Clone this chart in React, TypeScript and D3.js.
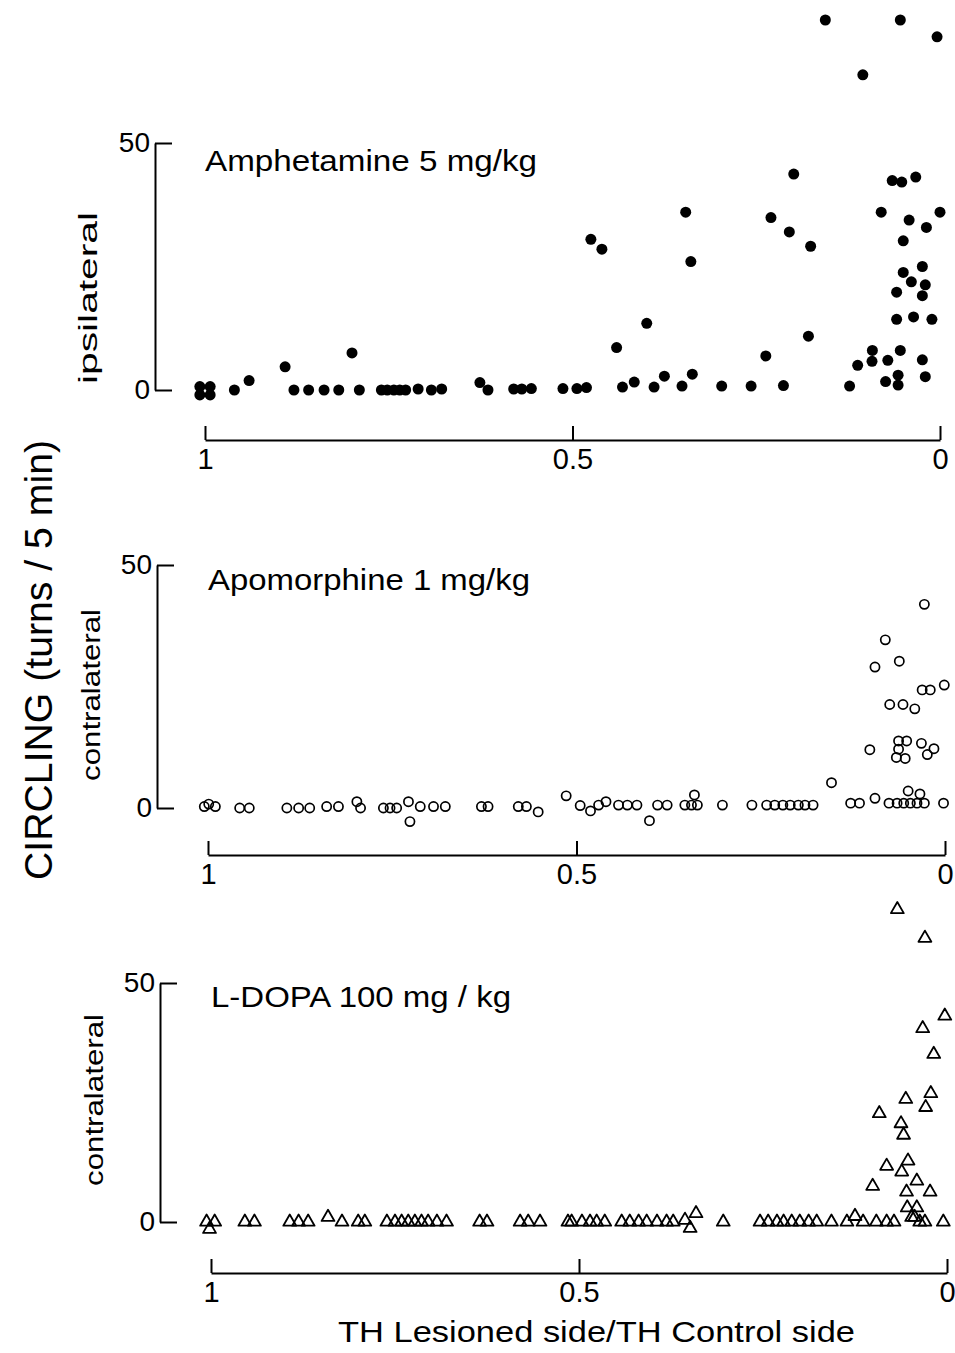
import React, { useEffect, useRef } from "react";
import * as d3 from "d3";

// [TH lesioned / TH control, turns per 5 min]
const amphetamine: [number, number][] = [
  [1.007, 0.7], [0.993, 0.7], [1.007, -1], [0.993, -1],
  [0.96, 0], [0.94, 1.9], [0.891, 4.7], [0.879, 0], [0.859, 0], [0.838, 0], [0.818, 0],
  [0.8, 7.5], [0.79, 0], [0.76, 0], [0.752, 0], [0.743, 0], [0.735, 0], [0.727, 0],
  [0.71, 0.2], [0.692, 0], [0.678, 0.2], [0.626, 1.5], [0.615, 0], [0.58, 0.2],
  [0.569, 0.2], [0.556, 0.3], [0.513, 0.3], [0.494, 0.3], [0.481, 0.5],
  [0.475, 30.5], [0.46, 28.5], [0.44, 8.6], [0.432, 0.6], [0.416, 1.6], [0.399, 13.5],
  [0.389, 0.6], [0.375, 2.8], [0.351, 0.8], [0.346, 36.0], [0.339, 26.0], [0.337, 3.2],
  [0.297, 0.8], [0.257, 0.8], [0.237, 6.9], [0.23, 34.9], [0.213, 0.9], [0.205, 32.0],
  [0.199, 43.7], [0.179, 10.9], [0.176, 29.1], [0.156, 74.9], [0.123, 0.8], [0.112, 5.0],
  [0.105, 63.8], [0.092, 8.0], [0.0925, 5.8], [0.08, 36.0], [0.074, 1.7], [0.071, 6.0],
  [0.065, 42.4], [0.059, 19.8], [0.059, 14.3], [0.057, 3.0], [0.057, 1.0], [0.054, 8.0],
  [0.054, 74.9], [0.052, 42.1], [0.05, 23.8], [0.05, 30.2], [0.042, 34.4], [0.039, 21.9],
  [0.036, 14.8], [0.033, 43.1], [0.024, 25.0], [0.024, 19.1], [0.02, 21.3], [0.024, 6.1],
  [0.02, 2.7], [0.0185, 32.9], [0.011, 14.3], [0.004, 71.5], [0.0, 36.0],
];

const apomorphine: [number, number][] = [
  [1.005, 0.3], [0.999, 0.8], [0.99, 0.3], [0.957, 0], [0.944, 0],
  [0.893, 0], [0.877, 0], [0.862, 0], [0.839, 0.3], [0.823, 0.3], [0.798, 1.3], [0.793, 0],
  [0.762, 0], [0.753, 0], [0.744, 0], [0.728, 1.3], [0.726, -2.8], [0.712, 0.3],
  [0.694, 0.3], [0.678, 0.3], [0.629, 0.3], [0.62, 0.3], [0.579, 0.3], [0.568, 0.3],
  [0.552, -0.8], [0.514, 2.5], [0.495, 0.5], [0.481, -0.6], [0.47, 0.6], [0.46, 1.3],
  [0.443, 0.6], [0.431, 0.6], [0.418, 0.6], [0.401, -2.6], [0.39, 0.6], [0.377, 0.6],
  [0.353, 0.6], [0.344, 0.6], [0.34, 2.7], [0.336, 0.6], [0.302, 0.6], [0.262, 0.6],
  [0.242, 0.6], [0.231, 0.6], [0.22, 0.6], [0.21, 0.6], [0.199, 0.6], [0.19, 0.6],
  [0.179, 0.6], [0.154, 5.2], [0.128, 1.0], [0.116, 1.0], [0.102, 12.0], [0.095, 29.0],
  [0.095, 2.0], [0.081, 34.6], [0.076, 1.0], [0.075, 21.3], [0.066, 10.4], [0.065, 1.0],
  [0.063, 13.8], [0.063, 12.1], [0.062, 30.2], [0.057, 21.3], [0.056, 1.0], [0.054, 10.2],
  [0.052, 13.8], [0.05, 3.5], [0.047, 1.0], [0.041, 20.4], [0.038, 1.0], [0.034, 2.9],
  [0.032, 13.3], [0.031, 24.3], [0.028, 41.9], [0.028, 1.0], [0.024, 11.0], [0.02, 24.3],
  [0.015, 12.2], [0.001, 25.3], [0.002, 1.0],
];

const ldopa: [number, number][] = [
  [1.006, 0], [0.995, 0], [1.002, -1.5], [0.954, 0], [0.941, 0], [0.893, 0], [0.881, 0],
  [0.868, 0], [0.841, 1.0], [0.822, 0], [0.8, 0], [0.791, 0], [0.761, 0], [0.75, 0],
  [0.741, 0], [0.732, 0], [0.723, 0], [0.714, 0], [0.705, 0], [0.693, 0], [0.68, 0],
  [0.635, 0], [0.625, 0], [0.58, 0], [0.569, 0], [0.553, 0], [0.515, 0], [0.51, 0],
  [0.496, 0], [0.485, 0], [0.476, 0], [0.465, 0], [0.442, 0], [0.431, 0], [0.419, 0],
  [0.408, 0], [0.394, 0], [0.381, 0], [0.372, 0], [0.356, 0.4], [0.341, 1.8], [0.349, -1.3],
  [0.304, 0], [0.254, 0], [0.243, 0], [0.231, 0], [0.222, 0], [0.211, 0], [0.2, 0],
  [0.188, 0], [0.177, 0], [0.157, 0], [0.136, 0], [0.125, 1.2], [0.114, 0], [0.096, 0],
  [0.082, 0], [0.072, 0], [0.054, 3], [0.048, 1], [0.044, 1], [0.041, 3], [0.037, 0],
  [0.03, 0], [0.005, 0], [0.101, 7.5], [0.092, 22.7], [0.082, 11.7], [0.0675, 65.4],
  [0.0625, 20.6], [0.0615, 10.5], [0.059, 18.2], [0.056, 25.7], [0.055, 6.3], [0.053, 12.8],
  [0.041, 8.6], [0.033, 40.5], [0.03, 59.4], [0.029, 24.0], [0.023, 6.3], [0.022, 26.9],
  [0.018, 35.1], [0.003, 43.1],
];

const xTicks = [1, 0.5, 0];
const xTickLabels = ["1", "0.5", "0"];
const yTicks = [0, 50];

const FONT = "'Liberation Sans Narrow', 'Liberation Sans', Arial, sans-serif";
const SANS = "'Liberation Sans', Arial, sans-serif";

const App = () => {
  const svgRef = useRef<SVGSVGElement>(null);

  useEffect(() => {
    const svg = d3.select(svgRef.current);
    svg.selectAll("*").remove();

    const panels = [
      { data: amphetamine, marker: "dot", title: "Amphetamine 5 mg/kg", titleW: 332, side: "ipsilateral",
        left: 155, x0: 205, x1: 940, yBase: 390, yTop: 143, axisY: 440, titleY: 171, sideX: 97, sideY: 298 },
      { data: apomorphine, marker: "circle", title: "Apomorphine 1 mg/kg", titleW: 322, side: "contralateral",
        left: 157, x0: 208, x1: 945, yBase: 808, yTop: 565, axisY: 855, titleY: 590, sideX: 100, sideY: 695 },
      { data: ldopa, marker: "triangle", title: "L-DOPA 100 mg / kg", titleW: 300, side: "contralateral",
        left: 160, x0: 211, x1: 947, yBase: 1222, yTop: 983, axisY: 1273, titleY: 1007, sideX: 103, sideY: 1100 },
    ];

    panels.forEach((p) => {
      const x = d3.scaleLinear().domain([1, 0]).range([p.x0, p.x1]);
      const y = d3.scaleLinear().domain([0, 50]).range([p.yBase, p.yTop]);

      // y axis with inward ticks
      const yAxis = d3.axisLeft(y).tickValues(yTicks).tickSizeInner(-17).tickSizeOuter(0).tickPadding(5);
      const gy = svg.append("g").attr("transform", `translate(${p.left},0)`).call(yAxis);
      gy.select(".domain").attr("stroke-width", 2);
      gy.selectAll(".tick line").attr("stroke-width", 2);
      gy.selectAll(".tick text").attr("font-size", 28).attr("font-family", FONT).attr("fill", "#000");

      // x axis, ticks pointing up
      const xAxis = d3.axisBottom(x).tickValues(xTicks).tickFormat((_d, i) => xTickLabels[i])
        .tickSizeInner(-14).tickSizeOuter(0).tickPadding(8);
      const gx = svg.append("g").attr("transform", `translate(0,${p.axisY})`).call(xAxis);
      gx.select(".domain").attr("stroke-width", 2);
      gx.selectAll(".tick line").attr("stroke-width", 2);
      gx.selectAll(".tick text").attr("font-size", 29).attr("font-family", FONT).attr("fill", "#000");

      svg.append("text")
        .attr("x", p.x0).attr("y", p.titleY)
        .attr("font-size", 30).attr("font-family", FONT)
        .attr("textLength", p.titleW).attr("lengthAdjust", "spacingAndGlyphs")
        .text(p.title);

      svg.append("text")
        .attr("transform", `translate(${p.sideX},${p.sideY}) rotate(-90)`)
        .attr("text-anchor", "middle")
        .attr("font-size", 25).attr("font-family", SANS)
        .attr("textLength", 172).attr("lengthAdjust", "spacingAndGlyphs")
        .text(p.side);

      const g = svg.append("g");
      if (p.marker === "dot") {
        g.selectAll("circle").data(p.data).join("circle")
          .attr("cx", (d) => x(d[0])).attr("cy", (d) => y(d[1]))
          .attr("r", 5.5).attr("fill", "#000");
      } else if (p.marker === "circle") {
        g.selectAll("circle").data(p.data).join("circle")
          .attr("cx", (d) => x(d[0])).attr("cy", (d) => y(d[1]))
          .attr("r", 4.6).attr("fill", "none").attr("stroke", "#000").attr("stroke-width", 1.7);
      } else {
        const tri = d3.symbol(d3.symbolTriangle, 72);
        g.selectAll("path").data(p.data).join("path")
          .attr("transform", (d) => `translate(${x(d[0])},${y(d[1])})`)
          .attr("d", tri).attr("fill", "none").attr("stroke", "#000")
          .attr("stroke-width", 1.8).attr("stroke-linejoin", "round");
      }
    });

    svg.append("text")
      .attr("transform", "translate(52,660) rotate(-90)")
      .attr("text-anchor", "middle")
      .attr("font-size", 38).attr("font-family", SANS)
      .attr("textLength", 440).attr("lengthAdjust", "spacingAndGlyphs")
      .text("CIRCLING (turns / 5 min)");

    svg.append("text")
      .attr("x", 338).attr("y", 1342)
      .attr("font-size", 30).attr("font-family", FONT)
      .attr("textLength", 517).attr("lengthAdjust", "spacingAndGlyphs")
      .text("TH Lesioned side/TH Control side");
  }, []);

  return (
    <svg
      ref={svgRef}
      width={955}
      height={1353}
      style={{ position: "absolute", left: 0, top: 0, background: "#fff" }}
    ></svg>
  );
};

export default App;
